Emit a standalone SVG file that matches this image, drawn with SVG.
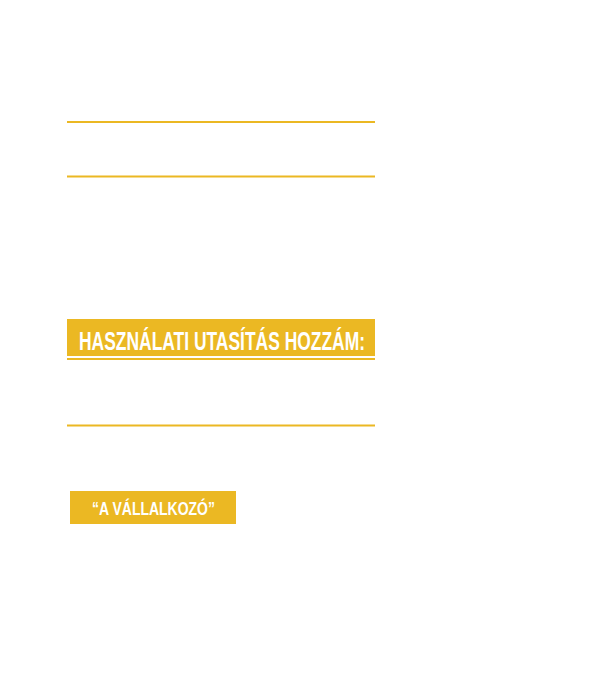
<svg xmlns="http://www.w3.org/2000/svg" width="605" height="680" viewBox="0 0 605 680">
<style>
.rule{stroke:#EBB823;stroke-width:2}
.box{fill:#EBB823}
.t{fill:#fff;font-family:"Liberation Sans",Arial,sans-serif;font-weight:bold}
</style>
<rect width="605" height="680" fill="#fff"/>
<g id="rules">
<line class="rule" x1="67" y1="122" x2="375" y2="122"/>
<line class="rule" x1="67" y1="176.5" x2="375" y2="176.5"/>
<line class="rule" x1="67" y1="425.5" x2="375" y2="425.5"/>
</g>
<g id="title">
<rect class="box" x="67" y="319" width="308" height="37"/>
<line class="rule" x1="67" y1="359" x2="375" y2="359"/>
<text class="t" x="79" y="350" font-size="25" textLength="286" lengthAdjust="spacingAndGlyphs">HASZNÁLATI UTASÍTÁS HOZZÁM:</text>
</g>
<g id="label">
<rect class="box" x="70" y="491" width="166" height="33"/>
<text class="t" x="92" y="515" font-size="18" textLength="123" lengthAdjust="spacingAndGlyphs">“A VÁLLALKOZÓ”</text>
</g>
</svg>
